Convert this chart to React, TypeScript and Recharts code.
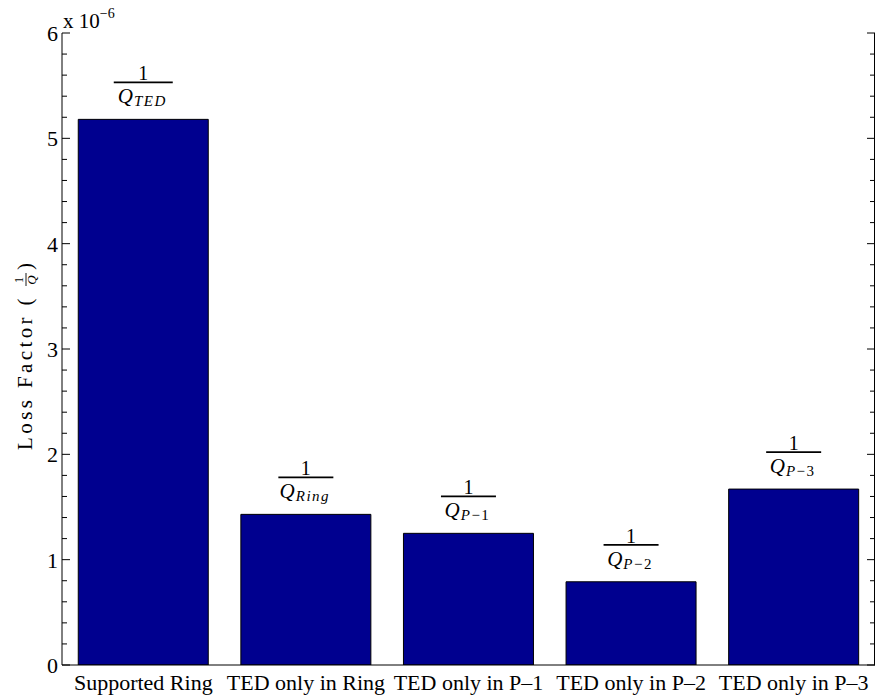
import React from 'react';
import { BarChart, Bar, XAxis, YAxis, LabelList } from 'recharts';

const categories = ['Supported Ring', 'TED only in Ring', 'TED only in P\u20131', 'TED only in P\u20132', 'TED only in P\u20133'];
const lossFactor = [5.18, 1.43, 1.25, 0.79, 1.67]; // units of 1e-6
const labelSubscripts = ['TED', 'Ring', 'P\u22121', 'P\u22122', 'P\u22123'];
const yTicks = [
  0, 0.2, 0.4, 0.6, 0.8, 1, 1.2, 1.4, 1.6, 1.8, 2, 2.2, 2.4, 2.6, 2.8, 3,
  3.2, 3.4, 3.6, 3.8, 4, 4.2, 4.4, 4.6, 4.8, 5, 5.2, 5.4, 5.6, 5.8, 6,
];
const exponentLabel = '\u22126';

const data = categories.map((name, i) => ({ name, value: lossFactor[i], sub: labelSubscripts[i] }));

const W = 877;
const H = 699;
const MARGIN = { top: 33, right: 2, left: 0, bottom: 0 };
const Y_AXIS_W = 62;
const X_AXIS_H = 34;
const PLOT_LEFT = MARGIN.left + Y_AXIS_W;
const PLOT_RIGHT = W - MARGIN.right;
const PLOT_TOP = MARGIN.top;
const PLOT_BOTTOM = H - MARGIN.bottom - X_AXIS_H;
const FONT = '"Liberation Serif", "Times New Roman", serif';

const isMajor = (v: number) => Math.abs(v - Math.round(v)) < 1e-9;

const YTick = (props: any) => {
  const { y, payload } = props;
  const v = payload.value as number;
  const major = isMajor(v);
  const len = major ? 8 : 5;
  return (
    <g>
      <line x1={PLOT_LEFT} x2={PLOT_LEFT + len} y1={y} y2={y} stroke="#000" strokeWidth={1} />
      <line x1={PLOT_RIGHT} x2={PLOT_RIGHT - len} y1={y} y2={y} stroke="#000" strokeWidth={1} />
      {major && (
        <text x={PLOT_LEFT - 4} y={y} dy="0.36em" textAnchor="end" fontFamily={FONT} fontSize={22} fill="#000">
          {Math.round(v)}
        </text>
      )}
    </g>
  );
};

const TopTick = (props: any) => {
  const { x } = props;
  return <line x1={x} x2={x} y1={PLOT_TOP} y2={PLOT_TOP + 7} stroke="#000" strokeWidth={1} />;
};

const BottomTick = (props: any) => {
  const { x, payload } = props;
  return (
    <text x={x} y={PLOT_BOTTOM + 25} textAnchor="middle" fontFamily={FONT} fontSize={22} fill="#000">
      {payload.value}
    </text>
  );
};

const SubText = ({ sub }: { sub: string }) => {
  const parts = sub.split('\u2212');
  if (parts.length === 2) {
    return (
      <>
        <tspan fontStyle="italic" fontSize={15} dy={3} letterSpacing={1.5}>{parts[0]}</tspan>
        <tspan fontSize={15} letterSpacing={1.5}>{'\u2212' + parts[1]}</tspan>
      </>
    );
  }
  return <tspan fontStyle="italic" fontSize={15} dy={3} letterSpacing={1.5}>{sub}</tspan>;
};

const FractionLabel = (props: any) => {
  const { x, y, width, index } = props;
  const cx = x + width / 2;
  const lineY = y - 37;
  const sub = labelSubscripts[index];
  const half = sub === 'TED' ? 29.5 : 27.5;
  return (
    <g fontFamily={FONT} fill="#000">
      <text x={cx} y={lineY - 2} textAnchor="middle" fontSize={20}>1</text>
      <line x1={cx - half} x2={cx + half} y1={lineY} y2={lineY} stroke="#000" strokeWidth={1.8} />
      <text x={cx - 1} y={lineY + 21} textAnchor="middle" fontSize={21}>
        <tspan fontStyle="italic" letterSpacing={1}>Q</tspan>
        <SubText sub={sub} />
      </text>
    </g>
  );
};

const AxisTitles = () => (
  <g fontFamily={FONT} fill="#000">
    <line x1={PLOT_RIGHT - 0.5} x2={PLOT_RIGHT - 0.5} y1={PLOT_TOP} y2={PLOT_BOTTOM} stroke="#000" strokeWidth={1} />
    <text x={63} y={28} fontSize={21}>
      x 10<tspan fontSize={14} dy={-10}>{exponentLabel}</tspan>
    </text>
    <g transform="translate(32,356) rotate(-90)">
      <text x={-94} y={0} fontSize={21} letterSpacing={3.4}>Loss Factor (</text>
      <text x={76} y={-9} textAnchor="middle" fontSize={12}>1</text>
      <line x1={70} x2={83} y1={-6} y2={-6} stroke="#000" strokeWidth={0.9} />
      <text x={76} y={4} textAnchor="middle" fontSize={13} fontStyle="italic">Q</text>
      <text x={86} y={0} fontSize={21}>)</text>
    </g>
  </g>
);

export default function App() {
  return (
    <div style={{ position: 'absolute', left: 0, top: 0, width: W, height: H, background: '#fff' }}>
      <BarChart width={W} height={H} data={data} margin={MARGIN} barCategoryGap="10%">
        <XAxis
          dataKey="name"
          height={X_AXIS_H}
          axisLine={{ stroke: '#000', strokeWidth: 1 }}
          tickLine={false}
          tick={<BottomTick />}
          interval={0}
        />
        <XAxis
          xAxisId="top"
          dataKey="name"
          orientation="top"
          height={0}
          axisLine={{ stroke: '#000', strokeWidth: 1 }}
          tickLine={false}
          tick={<TopTick />}
          interval={0}
        />
        <YAxis
          width={Y_AXIS_W}
          domain={[0, 6]}
          ticks={yTicks}
          interval={0}
          axisLine={{ stroke: '#000', strokeWidth: 1 }}
          tickLine={false}
          tick={<YTick />}
          label={<AxisTitles />}
          allowDataOverflow
        />
        <Bar dataKey="value" fill="#00008F" stroke="#000" strokeWidth={1} isAnimationActive={false}>
          <LabelList dataKey="value" content={<FractionLabel />} />
        </Bar>
      </BarChart>
    </div>
  );
}
